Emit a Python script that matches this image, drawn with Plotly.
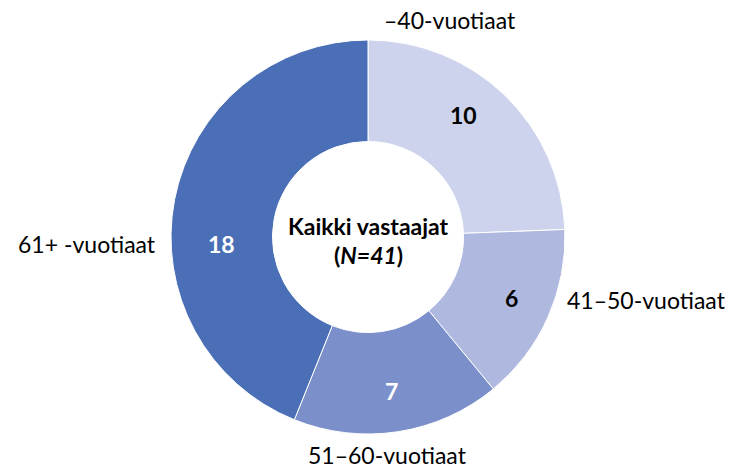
import plotly.graph_objects as go

categories = ["–40-vuotiaat", "41–50-vuotiaat", "51–60-vuotiaat", "61+ -vuotiaat"]
values = [10, 6, 7, 18]
colors = ["#CDD3EC", "#AFB8DE", "#7B8FCB", "#4A6FB6"]
value_font_colors = ["#000000", "#000000", "#FFFFFF", "#FFFFFF"]
center_title = "Kaikki vastaajat"
n_total = sum(values)

W, H = 733, 470
cx, cy, R = 368, 237, 197

# label anchor positions in pixels (layout)
label_pos = [(450, 20), (646, 300), (387, 455), (87, 244)]
value_pos = [(463, 115), (511, 298), (391, 391), (222, 244)]

FONT = "Lato"
FS = 23

fig = go.Figure(go.Pie(
    labels=categories,
    values=values,
    sort=False,
    direction="clockwise",
    rotation=0,
    hole=0.485,
    marker=dict(colors=colors, line=dict(color="#FFFFFF", width=1)),
    textinfo="none",
    hoverinfo="label+value",
    domain=dict(x=[(cx - R) / W, (cx + R) / W], y=[(H - cy - R) / H, (H - cy + R) / H]),
    showlegend=False,
))

ann = []
for lab, (x, y) in zip(categories, label_pos):
    ann.append(dict(x=x / W, y=1 - y / H, xref="paper", yref="paper", text=lab,
                    showarrow=False, font=dict(family=FONT, size=FS, color="#000000"),
                    xanchor="center", yanchor="middle"))
for v, c, (x, y) in zip(values, value_font_colors, value_pos):
    ann.append(dict(x=x / W, y=1 - y / H, xref="paper", yref="paper", text=f"<b>{v}</b>",
                    showarrow=False, font=dict(family=FONT, size=FS, color=c),
                    xanchor="center", yanchor="middle"))
ann.append(dict(x=cx / W, y=1 - 226 / H, xref="paper", yref="paper",
                text=f"<b>{center_title}</b>", showarrow=False,
                font=dict(family=FONT, size=FS, color="#000000"), xanchor="center", yanchor="middle"))
ann.append(dict(x=cx / W, y=1 - 255 / H, xref="paper", yref="paper",
                text=f"<b>(<i>N={n_total}</i>)</b>", showarrow=False,
                font=dict(family=FONT, size=FS, color="#000000"), xanchor="center", yanchor="middle"))

fig.update_layout(
    width=W, height=H,
    margin=dict(l=0, r=0, t=0, b=0),
    paper_bgcolor="#FFFFFF", plot_bgcolor="#FFFFFF",
    annotations=ann,
)

fig.write_html("out.html", config={"displayModeBar": False},
               post_script="document.body.style.margin='0';document.body.style.padding='0';")
